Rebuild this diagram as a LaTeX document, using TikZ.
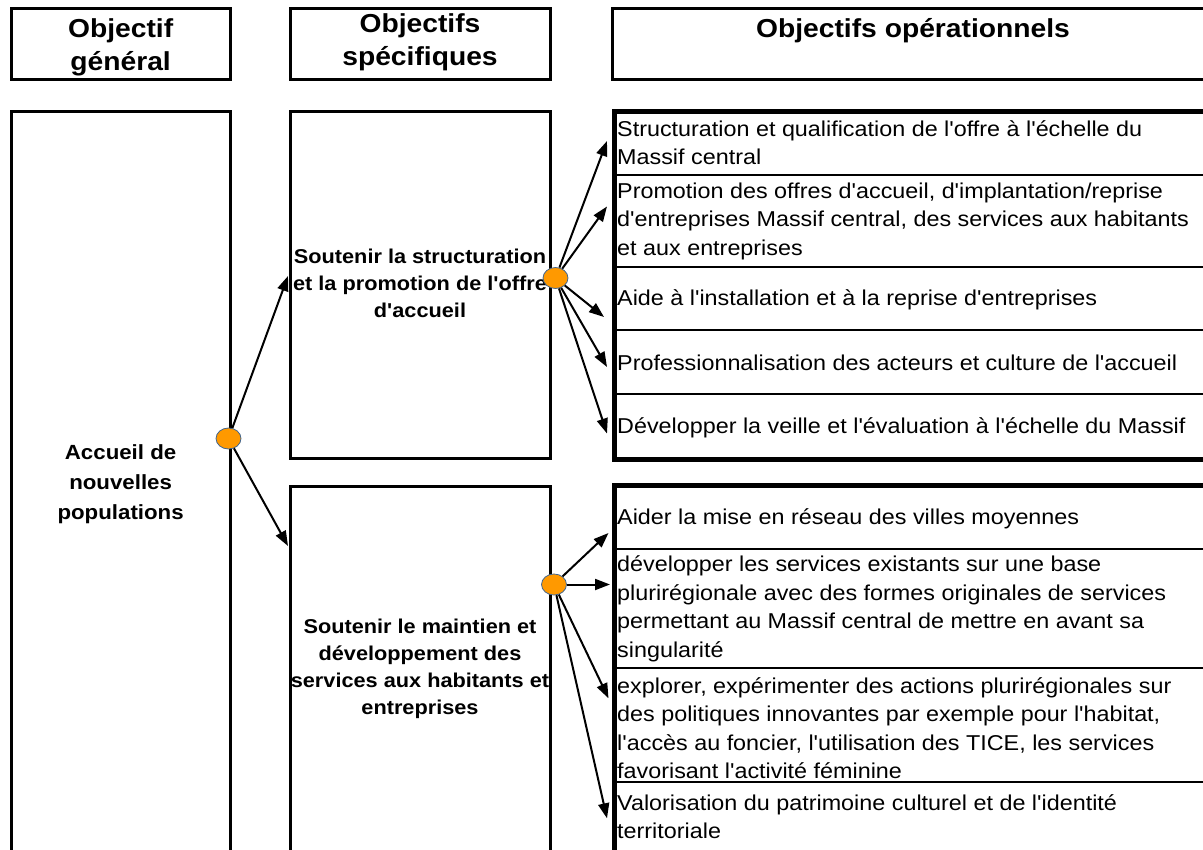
\documentclass[tikz,border=0pt]{standalone}
\usepackage{fontspec}
\setmainfont{Liberation Sans}[Ligatures=TeXOff, FakeStretch=1.086]
\usetikzlibrary{arrows.meta,shapes.geometric}
\definecolor{dotfill}{HTML}{FF9900}
\definecolor{dotedge}{HTML}{41658E}
\newcommand{\myst}{\rule{0pt}{25pt}}
\begin{document}
\begin{tikzpicture}[x=1pt,y=-1pt,
  hdrbox/.style={draw=black, line width=3pt},
  mainbox/.style={draw=black, line width=3pt},
  opouter/.style={draw=black, line width=5pt},
  opsep/.style={draw=black, line width=2.5pt},
  hdrtext/.style={inner sep=0pt, anchor=north, align=center, font=\bfseries\fontsize{26}{33}\selectfont},
  midtext/.style={inner sep=0pt, anchor=north, align=center, font=\bfseries\fontsize{20}{27}\selectfont},
  lefttext/.style={inner sep=0pt, anchor=north, align=center, font=\bfseries\fontsize{20.5}{30}\selectfont},
  optext/.style={inner sep=0pt, anchor=north west, align=left, font=\fontsize{21.5}{28.5}\selectfont},
  dot/.style={ellipse, fill=dotfill, draw=dotedge, line width=0.8pt, minimum width=25pt, minimum height=21pt, inner sep=0pt},
  arr/.style={draw=black, line width=2pt, -{Triangle[length=15pt,width=11pt]}}
]
\clip (0,0) rectangle (1203,850);
\fill[white] (0,0) rectangle (1203,850);

% header boxes
\draw[hdrbox] (11.3,8.5) rectangle (230,79.5);
\draw[hdrbox] (290,8.5) rectangle (550,79.5);
\draw[hdrbox] (612.5,8.5) rectangle (1217,79.5);
\node[hdrtext] (h1) at (120.6,12) {\myst Objectif\\général};
\node[hdrtext] (h2) at (420,7) {\myst Objectifs\\spécifiques};
\node[hdrtext] (h3) at (913,12) {\myst Objectifs opérationnels};

% main boxes
\draw[mainbox] (11.3,111.5) rectangle (230,870);
\draw[mainbox] (290,111.5) rectangle (550,458);
\draw[mainbox] (290,486) rectangle (550,870);

% operational group 1
\draw[opsep] (614.5,175) -- (1217,175);
\draw[opsep] (614.5,267) -- (1217,267);
\draw[opsep] (614.5,330) -- (1217,330);
\draw[opsep] (614.5,394) -- (1217,394);
\draw[opouter] (614.5,111.5) rectangle (1217,459.5);

% operational group 2
\draw[opsep] (614.5,549) -- (1217,549);
\draw[opsep] (614.5,668) -- (1217,668);
\draw[opsep] (614.5,782) -- (1217,782);
\draw[opouter] (614.5,485.5) rectangle (1217,880);

% texts
\node[lefttext] (g) at (120.6,434) {\myst Accueil de\\nouvelles\\populations};
\node[midtext] (s1) at (420,238) {\myst Soutenir la structuration\\et la promotion de l'offre\\d'accueil};
\node[midtext] (s2) at (420,608) {\myst Soutenir le maintien et\\développement des\\services aux habitants et\\entreprises};

\node[optext] (o11) at (617,111) {\myst Structuration et qualification de l'offre à l'échelle du\\Massif central};
\node[optext] (o12) at (617,173) {\myst Promotion des offres d'accueil, d'implantation/reprise\\d'entreprises Massif central, des services aux habitants\\et aux entreprises};
\node[optext] (o13) at (617,280) {\myst Aide à l'installation et à la reprise d'entreprises};
\node[optext] (o14) at (617,345.5) {\myst Professionnalisation des acteurs et culture de l'accueil};
\node[optext] (o15) at (617,408) {\myst Développer la veille et l'évaluation à l'échelle du Massif};

\node[optext] (o21) at (617,499.5) {\myst Aider la mise en réseau des villes moyennes};
\node[optext] (o22) at (617,546.7) {\myst développer les services existants sur une base\\plurirégionale avec des formes originales de services\\permettant au Massif central de mettre en avant sa\\singularité};
\node[optext] (o23) at (617,668) {\myst explorer, expérimenter des actions plurirégionales sur\\des politiques innovantes par exemple pour l'habitat,\\l'accès au foncier, l'utilisation des TICE, les services\\favorisant l'activité féminine};
\node[optext] (o24) at (617,785) {\myst Valorisation du patrimoine culturel et de l'identité\\territoriale};

% dots
\node[dot] (c0) at (228.5,438.5) {};
\node[dot] (c1) at (555.5,278) {};
\node[dot] (c2) at (554,584.5) {};

% arrow targets
\coordinate (t01) at (288,276);
\coordinate (t02) at (288,546);
\coordinate (t11) at (607,141);
\coordinate (t12) at (607,206.5);
\coordinate (t13) at (604,317);
\coordinate (t14) at (607,367);
\coordinate (t15) at (607,433.5);
\coordinate (t21) at (608.5,533);
\coordinate (t22) at (610,584.5);
\coordinate (t23) at (608.5,698.3);
\coordinate (t24) at (607,818.3);

\draw[arr] (c0) -- (t01);
\draw[arr] (c0) -- (t02);
\draw[arr] (c1) -- (t11);
\draw[arr] (c1) -- (t12);
\draw[arr] (c1) -- (t13);
\draw[arr] (c1) -- (t14);
\draw[arr] (c1) -- (t15);
\draw[arr] (c2) -- (t21);
\draw[arr] (c2) -- (t22);
\draw[arr] (c2) -- (t23);
\draw[arr] (c2) -- (t24);
\end{tikzpicture}
\end{document}
